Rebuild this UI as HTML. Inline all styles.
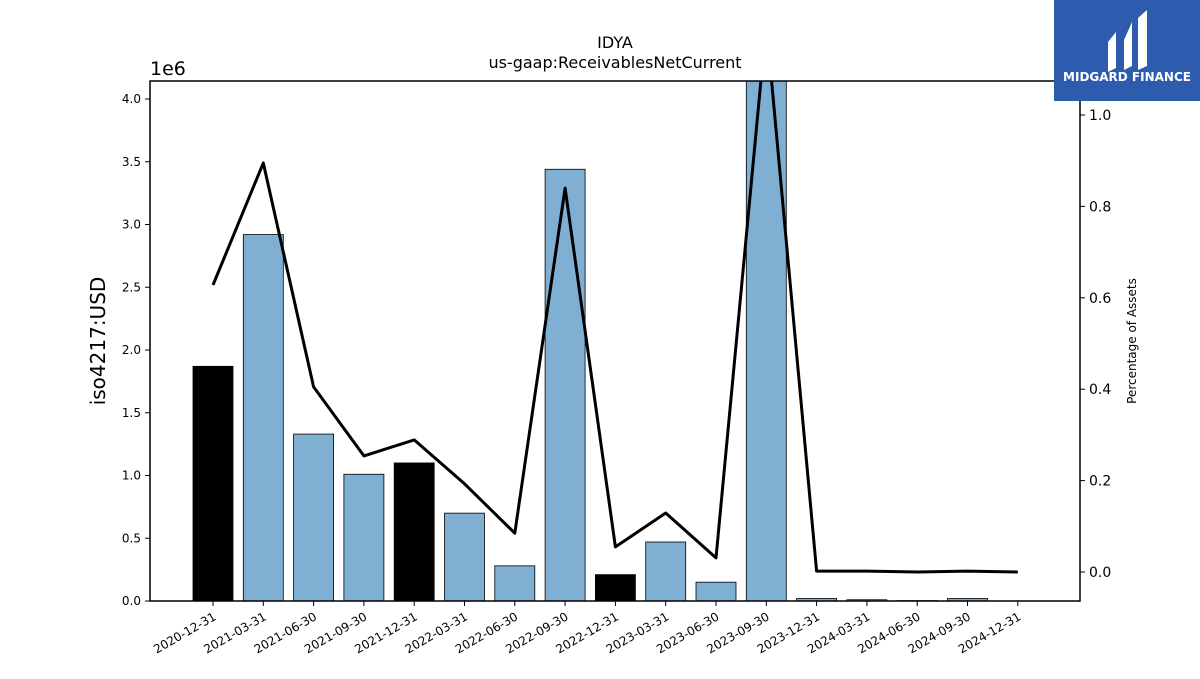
<!DOCTYPE html>
<html><head><meta charset="utf-8"><style>
body{margin:0;background:#fff;font-family:"DejaVu Sans","Liberation Sans",sans-serif;}
</style></head><body>
<svg id="chart" width="1200" height="675" xmlns="http://www.w3.org/2000/svg" font-family="DejaVu Sans, Liberation Sans, sans-serif">
<text x="615" y="48" font-size="16" text-anchor="middle">IDYA</text>
<text x="615" y="68" font-size="16" text-anchor="middle">us-gaap:ReceivablesNetCurrent</text>
<text x="150" y="75" font-size="19">1e6</text>
<text transform="translate(105,341) rotate(-90)" font-size="20" text-anchor="middle">iso4217:USD</text>
<text transform="translate(1136,341) rotate(-90)" font-size="12" text-anchor="middle">Percentage of Assets</text>
<g id="bars"></g><g id="ticks"></g>
<polyline id="line" fill="none" stroke="#000" stroke-width="3" stroke-linejoin="round"/>
<rect x="150" y="81" width="930" height="520" fill="none" stroke="#000" stroke-width="1.5"/>
<g>
<rect x="1054" y="0" width="146" height="101" fill="#2d5bad"/>
<path d="M1108 42 L1116 32 L1116 68 L1108 72 Z M1124 40 L1132 22 L1132 66 L1124 70 Z M1138 18 L1147 10 L1147 66 L1138 70 Z" fill="#fff"/>
<text x="1127" y="81" font-size="12" font-weight="bold" fill="#fff" text-anchor="middle">MIDGARD FINANCE</text>
</g>
</svg>
<script>
const categories=["2020-12-31","2021-03-31","2021-06-30","2021-09-30","2021-12-31","2022-03-31","2022-06-30","2022-09-30","2022-12-31","2023-03-31","2023-06-30","2023-09-30","2023-12-31","2024-03-31","2024-06-30","2024-09-30","2024-12-31"];
const barValues=[1.87,2.92,1.33,1.01,1.10,0.70,0.28,3.44,0.21,0.47,0.15,4.6,0.02,0.01,0.003,0.02,0.0];
const annual=[true,false,false,false,true,false,false,false,true,false,false,false,false,false,false,false,false];
const pctValues=[0.628,0.895,0.405,0.254,0.289,0.193,0.085,0.840,0.055,0.129,0.031,1.2,0.002,0.002,0.0,0.002,0.0];
const leftTicks=[0,0.5,1.0,1.5,2.0,2.5,3.0,3.5,4.0];
const rightTicks=[0,0.2,0.4,0.6,0.8,1.0];
const NS="http://www.w3.org/2000/svg";
const yTop=81,yBot=601,L=150,R=1080;
const yL=v=>601-v*125.5;
const yR=v=>572-v*457;
const xC=i=>213+i*50.3;
function mk(t,a,p){const e=document.createElementNS(NS,t);for(const k in a)e.setAttribute(k,a[k]);(p||document.getElementById('chart')).appendChild(e);return e;}
const bars=document.getElementById('bars'),ticks=document.getElementById('ticks');
categories.forEach((c,i)=>{
 const y=Math.max(yTop,yL(barValues[i]));
 const b=mk('rect',{x:xC(i)-20,y:y,width:40,height:yBot-y,fill:annual[i]?'#000':'#7fafd3',stroke:'#000','stroke-width':0.8},bars);
 
 
 mk('line',{x1:xC(i),x2:xC(i),y1:yBot,y2:yBot+5,stroke:'#000'},ticks);
 const t=mk('text',{transform:`translate(${xC(i)+4},${yBot+18}) rotate(-30)`,'font-size':12,'text-anchor':'end'},ticks);
 t.textContent=c;
 
 
});
leftTicks.forEach(v=>{
 mk('line',{x1:L-5,x2:L,y1:yL(v),y2:yL(v),stroke:'#000'},ticks);
 const t=mk('text',{x:L-9,y:yL(v)+4,'font-size':12,'text-anchor':'end'},ticks);
 t.textContent=v.toFixed(1);
 
 
});
rightTicks.forEach(v=>{
 mk('line',{x1:R,x2:R+5,y1:yR(v),y2:yR(v),stroke:'#000'},ticks);
 const t=mk('text',{x:R+9,y:yR(v)+5,'font-size':14},ticks);
 t.textContent=v.toFixed(1);
 
 
});
const cp=mk('clipPath',{id:'clip'});mk('rect',{x:L,y:yTop,width:R-L,height:yBot-yTop},cp);
const ln=document.getElementById('line');
ln.setAttribute('clip-path','url(#clip)');
ln.setAttribute('points',pctValues.map((v,i)=>xC(i)+','+yR(v)).join(' '));
</script>
</body></html>
